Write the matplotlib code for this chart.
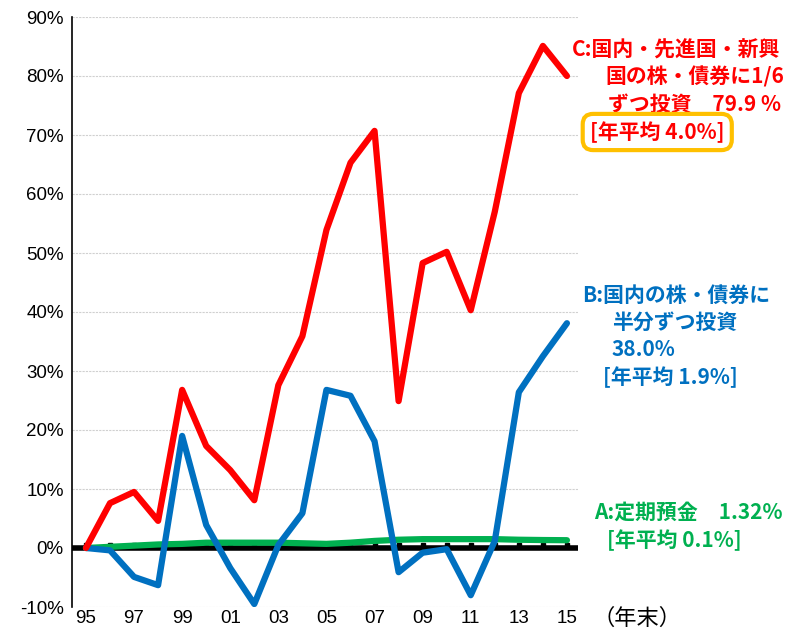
import matplotlib.pyplot as plt
import numpy as np

plt.rcParams['font.family'] = ['Noto Sans CJK JP', 'DejaVu Sans']

# 年末
years = ['95', '96', '97', '98', '99', '00', '01', '02', '03', '04', '05',
         '06', '07', '08', '09', '10', '11', '12', '13', '14', '15']
# C: 国内・先進国・新興国の株・債券に1/6ずつ投資 (%)
serieC = [0, 7.6, 9.5, 4.6, 26.8, 17.3, 13.2, 8.1, 27.6, 35.9, 53.9,
          65.3, 70.7, 24.9, 48.3, 50.2, 40.3, 57.0, 77.1, 85.1, 80.0]
# B: 国内の株・債券に半分ずつ投資 (%)
serieB = [0, -0.4, -4.9, -6.3, 19.0, 3.9, -3.4, -9.5, 0.5, 5.9, 26.8,
          25.8, 18.1, -4.1, -0.8, -0.2, -8.0, 1.2, 26.4, 32.5, 38.1]
# A: 定期預金 (%)
serieA = [0, 0.2, 0.4, 0.6, 0.7, 0.9, 0.9, 0.9, 0.9, 0.8, 0.7,
          0.9, 1.2, 1.4, 1.5, 1.5, 1.5, 1.5, 1.4, 1.35, 1.32]
yticks = [-10, 0, 10, 20, 30, 40, 50, 60, 70, 80, 90]

rouge = '#FF0000'
bleu = '#0070C0'
vert = '#00B050'
orange = '#FFC000'

W, H = 794, 631
fig = plt.figure(figsize=(W / 100, H / 100), dpi=100)
ax = fig.add_axes([72 / W, 1 - 607 / H, (578 - 72) / W, (607 - 17) / H])

x = np.arange(len(years))

for v in yticks:
    ax.axhline(v, color='#d0d0d0', lw=0.8, ls=(0, (2, 1)), zorder=0)

# axe horizontal a 0 (epais, avec petits repères)
ax.axhline(0, color='black', lw=4, zorder=1)
ax.plot(x, np.zeros(len(x)) + 0.5, ls='none', marker='s', ms=2.5,
        color='black', zorder=1)

ax.plot(x, serieA, color=vert, lw=4.5, zorder=2, solid_capstyle='round')
ax.plot(x, serieB, color=bleu, lw=4.5, zorder=3, solid_capstyle='round')
ax.plot(x, serieC, color=rouge, lw=4.5, zorder=4, solid_capstyle='round')

ax.set_xlim(-0.58, 20.46)
ax.set_ylim(-10, 90)
ax.set_yticks(yticks)
ax.set_yticklabels([f'{v}%' for v in yticks], fontsize=13.5,
                   family=['Liberation Sans', 'DejaVu Sans'])
ax.set_xticks(x[::2])
ax.set_xticklabels(years[::2], fontsize=13.5, family=['Liberation Sans', 'DejaVu Sans'])
ax.tick_params(axis='y', length=0, pad=6)
ax.tick_params(axis='x', length=0, pad=2)
for s in ['top', 'right', 'bottom']:
    ax.spines[s].set_visible(False)
ax.spines['left'].set_linewidth(1.2)


def txt(px, py, s, c, **kw):
    return fig.text(px / W, 1 - py / H, s, color=c, fontsize=15,
                    fontweight='bold', va='center', ha='left', **kw)


txt(572, 50, 'C:国内・先進国・新興', rouge)
txt(605, 77, '国の株・債券に1/6', rouge)
txt(608, 104, 'ずつ投資　79.9 %', rouge)
txt(590, 132, '[年平均 4.0%]', rouge,
    bbox=dict(boxstyle='round,pad=0.35,rounding_size=0.5', fc='white',
              ec=orange, lw=3))

txt(582, 295, 'B:国内の株・債券に', bleu)
txt(612, 322, '半分ずつ投資', bleu)
txt(612, 350, '38.0%', bleu)
txt(603, 377, '[年平均 1.9%]', bleu)

txt(594, 512, 'A:定期預金　1.32%', vert)
txt(607, 540, '[年平均 0.1%]', vert)

fig.text(592 / W, 1 - 618 / H, '（年末）', fontsize=16, va='center', ha='left')

fig.savefig('out.png', dpi=100)
